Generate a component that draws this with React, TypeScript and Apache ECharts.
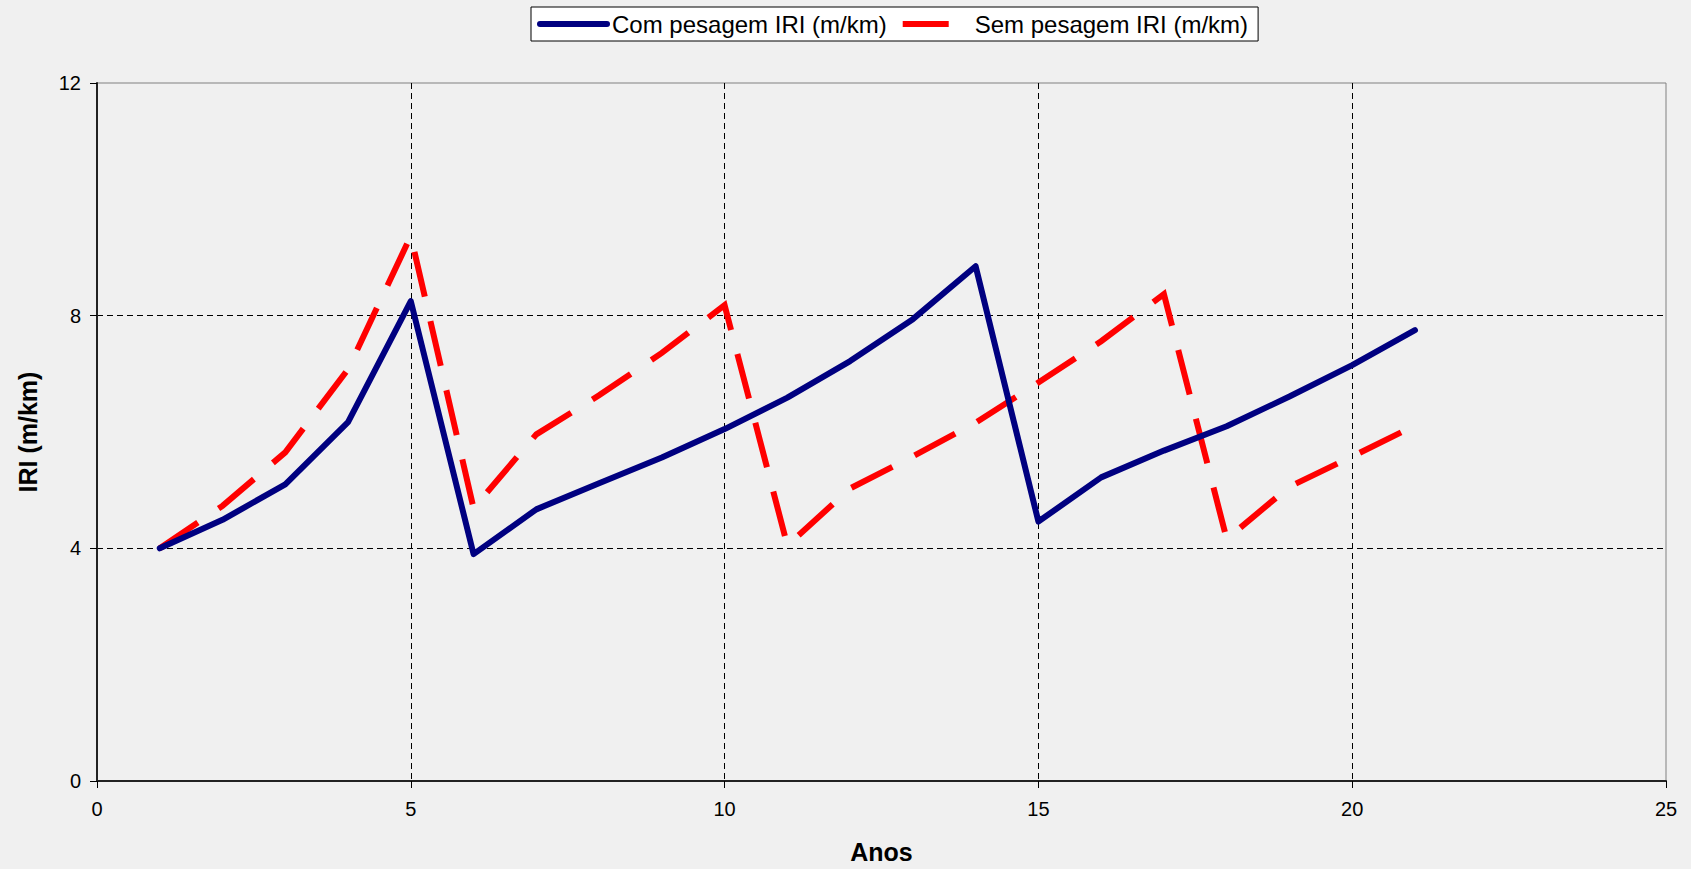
import React, { useEffect, useRef } from "react";
import * as echarts from "echarts";

const years = [1, 2, 3, 4, 5, 6, 7, 8, 9, 10, 11, 12, 13, 14, 15, 16, 17, 18, 19, 20, 21];
const comPesagem = [4.0, 4.49, 5.1, 6.17, 8.25, 3.9, 4.67, 5.12, 5.56, 6.05, 6.59, 7.22, 7.94, 8.85, 4.46, 5.22, 5.68, 6.1, 6.61, 7.15, 7.75];
const semPesagem = [4.0, 4.73, 5.65, 7.08, 9.37, 4.69, 5.96, 6.63, 7.36, 8.18, 4.05, 5.03, 5.58, 6.16, 6.85, 7.56, 8.37, 4.16, 5.06, 5.58, 6.11];
const seriesNames = ["Com pesagem IRI (m/km)", "Sem pesagem IRI (m/km)"];
const xAxisName = "Anos";
const yAxisName = "IRI (m/km)";

const FONT = "'Liberation Sans', Arial, Helvetica, sans-serif";

export default function App() {
  const ref = useRef<HTMLDivElement>(null);
  useEffect(() => {
    if (!ref.current) return;
    const chart = echarts.init(ref.current, null, { renderer: "svg" });
    const option: any = {
      animation: false,
      backgroundColor: "#f0f0f0",
      textStyle: { fontFamily: FONT, color: "#000" },
      legend: {
        left: 531,
        top: 7,
        padding: [5, 10, 5, 6],
        itemWidth: 67,
        itemHeight: 14,
        itemGap: 13,
        backgroundColor: "#ffffff",
        borderColor: "#000000",
        borderWidth: 1,
        borderRadius: 0,
        textStyle: { fontFamily: FONT, fontSize: 24, color: "#000" },
        lineStyle: { width: 6 },
        itemStyle: { opacity: 0, color: "transparent", borderColor: "transparent", borderWidth: 0 },
        data: seriesNames,
      },
      grid: {
        left: 97,
        right: 25,
        top: 83,
        bottom: 87,
        show: true,
        borderColor: "#808080",
        borderWidth: 1,
        backgroundColor: "transparent",
      },
      xAxis: {
        type: "value",
        min: 0,
        max: 25,
        interval: 5,
        name: xAxisName,
        nameLocation: "middle",
        nameGap: 58,
        nameTextStyle: { fontFamily: FONT, fontSize: 25, fontWeight: "bold", color: "#000" },
        axisLine: { show: true, lineStyle: { color: "#222", width: 2 } },
        axisTick: { show: true, length: 7, lineStyle: { color: "#000", width: 1 } },
        axisLabel: { fontFamily: FONT, fontSize: 20, color: "#000", margin: 18 },
        splitLine: {
          show: true,
          showMinLine: false,
          showMaxLine: false,
          lineStyle: { color: "#000", width: 1, type: [6, 4] },
        },
      },
      yAxis: {
        type: "value",
        min: 0,
        max: 12,
        interval: 4,
        name: yAxisName,
        nameLocation: "middle",
        nameRotate: 90,
        nameGap: 57,
        nameTextStyle: { fontFamily: FONT, fontSize: 25, fontWeight: "bold", color: "#000" },
        axisLine: { show: true, lineStyle: { color: "#222", width: 2 } },
        axisTick: { show: true, length: 7, lineStyle: { color: "#000", width: 1 } },
        axisLabel: { fontFamily: FONT, fontSize: 20, color: "#000", margin: 16 },
        splitLine: {
          show: true,
          showMinLine: false,
          showMaxLine: false,
          lineStyle: { color: "#000", width: 1, type: [6, 4] },
        },
      },
      series: [
        {
          name: seriesNames[0],
          type: "line",
          symbol: "none",
          showSymbol: false,
          data: years.map((y, i) => [y, comPesagem[i]]),
          lineStyle: { color: "#000080", width: 6, cap: "round", join: "round" },
          itemStyle: { color: "#000080" },
          z: 3,
        },
        {
          name: seriesNames[1],
          type: "line",
          symbol: "none",
          showSymbol: false,
          data: years.map((y, i) => [y, semPesagem[i]]),
          lineStyle: { color: "#ff0000", width: 6, type: [46, 25], cap: "butt", join: "miter" },
          itemStyle: { color: "#ff0000" },
          z: 2,
        },
      ],
    };
    chart.setOption(option);
    return () => chart.dispose();
  }, []);
  return (
    <div
      ref={ref}
      style={{ position: "fixed", left: 0, top: 0, width: 1691, height: 869 }}
    />
  );
}
